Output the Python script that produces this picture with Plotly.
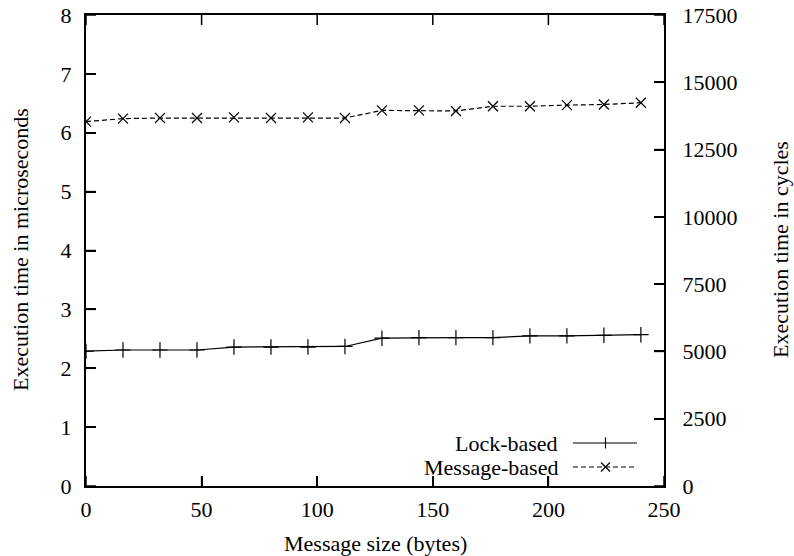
import plotly.graph_objects as go

message_size = [0, 16, 32, 48, 64, 80, 96, 112, 128, 144, 160, 176, 192, 208, 224, 240]
lock_based = [2.29, 2.31, 2.31, 2.31, 2.36, 2.36, 2.36, 2.37, 2.51, 2.52, 2.52, 2.52, 2.55, 2.55, 2.56, 2.57]
message_based = [6.19, 6.24, 6.25, 6.25, 6.26, 6.25, 6.26, 6.25, 6.38, 6.38, 6.37, 6.45, 6.45, 6.47, 6.48, 6.51]

x_ticks = [0, 50, 100, 150, 200, 250]
y_ticks = [0, 1, 2, 3, 4, 5, 6, 7, 8]
y2_ticks = [0, 2500, 5000, 7500, 10000, 12500, 15000, 17500]

X_RANGE = [0, 250]
Y_RANGE = [0, 8]
Y2_RANGE = [0, 17500]

FONT = "Liberation Serif"
FS = 22
ML, MR, MT, MB = 86, 130, 15, 70
W, H = 794, 556
PW, PH = W - ML - MR, H - MT - MB
TICK = 10


def px(xp):
    return (xp - ML) / PW


def py(yp):
    return (H - MB - yp) / PH


def frac(v, rng):
    return (v - rng[0]) / (rng[1] - rng[0])


fig = go.Figure()
fig.add_trace(go.Scatter(
    x=message_size, y=lock_based, mode="lines+markers", name="Lock-based",
    line=dict(color="black", width=1.2),
    marker=dict(symbol="cross-thin", size=11, line=dict(color="black", width=1.2)),
    showlegend=False,
))
fig.add_trace(go.Scatter(
    x=message_size, y=message_based, mode="lines+markers", name="Message-based",
    line=dict(color="black", width=1.2, dash="5px,3px"),
    marker=dict(symbol="x-thin", size=10, line=dict(color="black", width=1.2)),
    showlegend=False,
))
# invisible trace to activate the secondary y axis
fig.add_trace(go.Scatter(x=[None], y=[None], yaxis="y2", showlegend=False, hoverinfo="skip"))

axis_common = dict(
    showgrid=False, zeroline=False, showline=True, linecolor="black", linewidth=2,
    ticks="inside", ticklen=TICK, tickwidth=1.5, tickcolor="black", automargin=False,
    tickfont=dict(family=FONT, size=FS, color="black"),
)

fig.update_layout(
    template="none",
    width=W, height=H,
    margin=dict(l=ML, r=MR, t=MT, b=MB),
    paper_bgcolor="white", plot_bgcolor="rgba(0,0,0,0)",
    font=dict(family=FONT, size=FS, color="black"),
    xaxis=dict(range=X_RANGE, tickvals=x_ticks, mirror=True, ticklabelstandoff=3, **axis_common),
    yaxis=dict(range=Y_RANGE, tickvals=y_ticks, ticklabelstandoff=8, **axis_common),
    yaxis2=dict(range=Y2_RANGE, tickvals=y2_ticks, overlaying="y", side="right",
                tickformat="d", ticklabelstandoff=12, **axis_common),
)

annotations = [
    dict(text="Message size (bytes)", x=px(375), y=py(543), xref="paper", yref="paper",
         showarrow=False, xanchor="center", yanchor="middle"),
    dict(text="Execution time in microseconds", x=px(20), y=py(250), xref="paper", yref="paper",
         showarrow=False, textangle=-90, xanchor="center", yanchor="middle"),
    dict(text="Execution time in cycles", x=px(780), y=py(250), xref="paper", yref="paper",
         showarrow=False, textangle=-90, xanchor="center", yanchor="middle"),
    dict(text="Lock-based", x=px(560), y=py(443), xref="paper", yref="paper",
         showarrow=False, xanchor="right", yanchor="middle"),
    dict(text="Message-based", x=px(560), y=py(467), xref="paper", yref="paper",
         showarrow=False, xanchor="right", yanchor="middle"),
]
fig.update_layout(annotations=annotations)

tick_line = dict(color="black", width=1.5)
shapes = []
# inside tick marks drawn along the frame (bottom + top for x, left for y, right for y2)
for v in x_ticks:
    f = frac(v, X_RANGE)
    shapes.append(dict(type="line", xref="paper", yref="paper", x0=f, x1=f, y0=0, y1=TICK / PH, line=tick_line))
    shapes.append(dict(type="line", xref="paper", yref="paper", x0=f, x1=f, y0=1, y1=1 - TICK / PH, line=tick_line))
for v in y_ticks:
    f = frac(v, Y_RANGE)
    shapes.append(dict(type="line", xref="paper", yref="paper", x0=0, x1=TICK / PW, y0=f, y1=f, line=tick_line))
for v in y2_ticks:
    f = frac(v, Y2_RANGE)
    shapes.append(dict(type="line", xref="paper", yref="paper", x0=1, x1=1 - TICK / PW, y0=f, y1=f, line=tick_line))

# legend sample: solid line with +
shapes.append(dict(type="line", xref="paper", yref="paper", x0=px(573), x1=px(637), y0=py(443), y1=py(443),
                   line=dict(color="black", width=1.2)))
shapes.append(dict(type="line", xref="paper", yref="paper", x0=px(605.5), x1=px(605.5), y0=py(437.5), y1=py(448.5),
                   line=dict(color="black", width=1.2)))
# legend sample: dashed line with x
shapes.append(dict(type="line", xref="paper", yref="paper", x0=px(573), x1=px(637), y0=py(467), y1=py(467),
                   line=dict(color="black", width=1.2, dash="5px,3px")))
shapes.append(dict(type="line", xref="paper", yref="paper", x0=px(601), x1=px(610), y0=py(462.5), y1=py(471.5),
                   line=dict(color="black", width=1.2)))
shapes.append(dict(type="line", xref="paper", yref="paper", x0=px(601), x1=px(610), y0=py(471.5), y1=py(462.5),
                   line=dict(color="black", width=1.2)))
fig.update_layout(shapes=shapes)

fig.write_html("out.html")
